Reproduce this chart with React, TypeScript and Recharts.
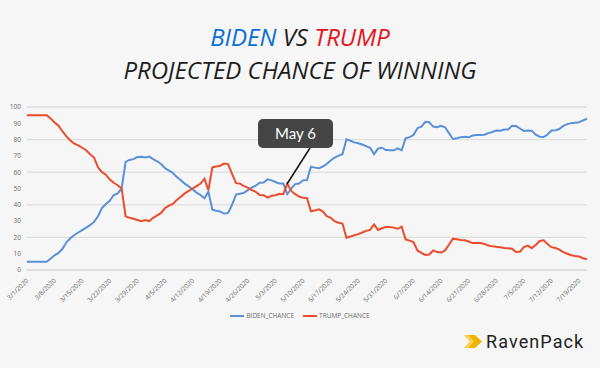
import { LineChart, Line, XAxis, YAxis, CartesianGrid, Legend } from "recharts";

// daily dates, 3/1/2020 .. 7/21/2020
const dates = [
  "3/1/2020", "3/2/2020", "3/3/2020", "3/4/2020", "3/5/2020", "3/6/2020", "3/7/2020",
  "3/8/2020", "3/9/2020", "3/10/2020", "3/11/2020", "3/12/2020", "3/13/2020", "3/14/2020",
  "3/15/2020", "3/16/2020", "3/17/2020", "3/18/2020", "3/19/2020", "3/20/2020", "3/21/2020",
  "3/22/2020", "3/23/2020", "3/24/2020", "3/25/2020", "3/26/2020", "3/27/2020", "3/28/2020",
  "3/29/2020", "3/30/2020", "3/31/2020", "4/1/2020", "4/2/2020", "4/3/2020", "4/4/2020",
  "4/5/2020", "4/6/2020", "4/7/2020", "4/8/2020", "4/9/2020", "4/10/2020", "4/11/2020",
  "4/12/2020", "4/13/2020", "4/14/2020", "4/15/2020", "4/16/2020", "4/17/2020", "4/18/2020",
  "4/19/2020", "4/20/2020", "4/21/2020", "4/22/2020", "4/23/2020", "4/24/2020", "4/25/2020",
  "4/26/2020", "4/27/2020", "4/28/2020", "4/29/2020", "4/30/2020", "5/1/2020", "5/2/2020",
  "5/3/2020", "5/4/2020", "5/5/2020", "5/6/2020", "5/7/2020", "5/8/2020", "5/9/2020",
  "5/10/2020", "5/11/2020", "5/12/2020", "5/13/2020", "5/14/2020", "5/15/2020", "5/16/2020",
  "5/17/2020", "5/18/2020", "5/19/2020", "5/20/2020", "5/21/2020", "5/22/2020", "5/23/2020",
  "5/24/2020", "5/25/2020", "5/26/2020", "5/27/2020", "5/28/2020", "5/29/2020", "5/30/2020",
  "5/31/2020", "6/1/2020", "6/2/2020", "6/3/2020", "6/4/2020", "6/5/2020", "6/6/2020",
  "6/7/2020", "6/8/2020", "6/9/2020", "6/10/2020", "6/11/2020", "6/12/2020", "6/13/2020",
  "6/14/2020", "6/15/2020", "6/16/2020", "6/17/2020", "6/18/2020", "6/19/2020", "6/20/2020",
  "6/21/2020", "6/22/2020", "6/23/2020", "6/24/2020", "6/25/2020", "6/26/2020", "6/27/2020",
  "6/28/2020", "6/29/2020", "6/30/2020", "7/1/2020", "7/2/2020", "7/3/2020", "7/4/2020",
  "7/5/2020", "7/6/2020", "7/7/2020", "7/8/2020", "7/9/2020", "7/10/2020", "7/11/2020",
  "7/12/2020", "7/13/2020", "7/14/2020", "7/15/2020", "7/16/2020", "7/17/2020", "7/18/2020",
  "7/19/2020", "7/20/2020", "7/21/2020",
];

const bidenChance = [
  5, 5, 5, 5, 5, 5, 7, 9, 10.5, 13,
  17, 19.5, 21.5, 23, 24.5, 26, 27.5, 29.5, 33, 38,
  40.5, 42.5, 46, 47, 50, 66.3, 67.5, 68, 69.3, 69.5,
  69, 69.6, 68, 66.7, 65, 62.5, 61, 59.5, 57, 55,
  53, 51.3, 49.5, 47.5, 46, 44, 48, 37, 36.3, 35.9,
  34.5, 35, 40, 46.3, 46.8, 47.3, 49, 50.5, 51.7, 53.5,
  53.7, 55.6, 55, 54, 53, 53, 46.5, 50, 52.7, 53,
  55, 55.2, 63.4, 62.8, 62.4, 63.5, 65, 67.2, 69, 70.2,
  71, 80.2, 79.3, 78.3, 77.8, 77, 76, 75, 71.1, 74.5,
  75, 73.6, 73.4, 73.4, 74.6, 73.4, 80.8, 81.5, 82.8, 87,
  88, 90.9, 90.6, 88, 87.6, 88.5, 87.6, 84, 80.4, 80.8,
  81.5, 81.8, 81.4, 82.5, 82.8, 82.8, 83, 84, 84.7, 85.6,
  85.5, 86.2, 86.2, 88.5, 88.3, 86.8, 85.3, 85.6, 85.5, 83,
  81.8, 81.6, 83.1, 85.6, 85.8, 86.5, 88.5, 89.5, 90.1, 90.4,
  90.7, 91.8, 92.8,
];

const trumpChance = [
  95, 95, 95, 95, 95, 95, 93, 90.5, 88.5, 85,
  82, 79.5, 77.5, 76.5, 75, 73.5, 71, 69, 63, 60,
  58.5, 55.5, 53.5, 52, 50, 33, 32, 31.4, 30.7, 30,
  30.7, 30, 32, 33.5, 35, 38, 39.5, 40.5, 43, 45,
  47, 48.5, 50, 51.5, 53, 56, 49, 63, 63.5, 64,
  65.3, 65, 59, 53.3, 53, 51.5, 50.5, 49, 48, 46,
  45.9, 44.4, 45.5, 45.9, 46.8, 46.5, 53, 48.5, 46.5, 45,
  44.3, 44, 36, 36.5, 37.2, 36, 33, 32, 30, 29,
  28.5, 19.8, 20.5, 21.3, 22, 23, 24, 24.6, 27.9, 24.6,
  25.6, 26.4, 26.4, 26, 25.3, 26.6, 18.8, 18, 17.2, 12,
  10.5, 9.2, 9.5, 12, 11, 10.7, 12, 15.5, 19.2, 18.8,
  18.4, 18.2, 17.5, 16.5, 16.5, 16.5, 16, 15, 14.5, 14.2,
  14, 13.5, 13.4, 13, 11, 11.2, 14, 15, 13.4, 15.3,
  17.8, 18.2, 16, 14, 13.5, 12.5, 11, 10, 9.1, 8.6,
  8.3, 7.2, 6.6,
];

const yTicks = [0, 10, 20, 30, 40, 50, 60, 70, 80, 90, 100];

const BLUE = "#5a8fd9";
const RED = "#ec4b2c";

const chartData = dates.map((d, i) => ({
  date: d,
  BIDEN_CHANCE: bidenChance[i],
  TRUMP_CHANCE: trumpChance[i],
}));

function renderDateTick(props: any) {
  const { x, y, payload } = props;
  return (
    <text
      x={x + 2}
      y={y + 3}
      textAnchor="end"
      fill="#6b6b6b"
      fontSize={6.5}
      fontFamily="Open Sans, sans-serif"
      transform={`rotate(-45 ${x + 2} ${y + 3})`}
    >
      {payload.value}
    </text>
  );
}

function renderLegend() {
  const items = [
    { label: "BIDEN_CHANCE", color: BLUE },
    { label: "TRUMP_CHANCE", color: RED },
  ];
  return (
    <div style={{ display: "flex", justifyContent: "center", gap: 9, fontSize: 6.5, color: "#6b6b6b", fontFamily: "Open Sans, sans-serif" }}>
      {items.map((it) => (
        <div key={it.label} style={{ display: "flex", alignItems: "center" }}>
          <span style={{ display: "inline-block", width: 14, height: 2, background: it.color, marginRight: 2 }} />
          {it.label}
        </div>
      ))}
    </div>
  );
}

const titleLine: any = {
  position: "absolute",
  left: 0,
  width: 600,
  textAlign: "center",
  fontFamily: "Open Sans, sans-serif",
  fontStyle: "italic",
  fontSize: 24,
  lineHeight: "24px",
  color: "#1e1e1e",
};

export default function App() {
  return (
    <div
      style={{
        position: "absolute",
        left: 0,
        top: 0,
        width: 600,
        height: 368,
        background: "#f6f6f6",
        overflow: "hidden",
      }}
    >
      {/* Title */}
      <div style={{ ...titleLine, top: 24.5 }}>
        <span style={{ color: "#0a6fd6" }}>BIDEN</span> VS{" "}
        <span style={{ color: "#e3161b" }}>TRUMP</span>
      </div>
      <div style={{ ...titleLine, top: 57.5 }}>PROJECTED CHANCE OF WINNING</div>

      <LineChart
        width={600}
        height={368}
        data={chartData}
        margin={{ top: 107, right: 13, left: 7, bottom: 49 }}
      >
        <CartesianGrid vertical={false} stroke="#dedede" strokeWidth={1.3} />
        <XAxis
          dataKey="date"
          interval={6}
          height={40}
          axisLine={{ stroke: "#dedede", strokeWidth: 1.3 }}
          tickLine={false}
          tick={renderDateTick}
        />
        <YAxis
          domain={[0, 100]}
          ticks={yTicks}
          width={20}
          axisLine={false}
          tickLine={false}
          tickMargin={0}
          tick={{ fill: "#6b6b6b", fontSize: 6.5, fontFamily: "Open Sans, sans-serif" }}
        />
        <Legend
          verticalAlign="bottom"
          content={renderLegend}
          wrapperStyle={{ top: 311, left: 0, width: 600 }}
        />
        <Line
          type="linear"
          dataKey="BIDEN_CHANCE"
          stroke={BLUE}
          strokeWidth={2}
          dot={false}
          isAnimationActive={false}
        />
        <Line
          type="linear"
          dataKey="TRUMP_CHANCE"
          stroke={RED}
          strokeWidth={2}
          dot={false}
          isAnimationActive={false}
        />
      </LineChart>

      {/* May 6 callout */}
      <svg
        width={600}
        height={368}
        style={{ position: "absolute", left: 0, top: 0, pointerEvents: "none" }}
      >
        <line x1={310} y1={148} x2={287} y2={184} stroke="#111" strokeWidth={1.5} />
      </svg>
      <div
        style={{
          position: "absolute",
          left: 258,
          top: 119,
          width: 75,
          height: 29,
          background: "#454545",
          borderRadius: 5,
          color: "#fff",
          fontFamily: "Lato, sans-serif",
          fontSize: 15,
          lineHeight: "29px",
          textAlign: "center",
        }}
      >
        May 6
      </div>

      {/* RavenPack logo */}
      <div
        style={{
          position: "absolute",
          left: 464,
          top: 331,
          display: "flex",
          alignItems: "center",
        }}
      >
        <svg width={18} height={13} viewBox="0 0 18 13">
          <polygon points="0,0 11,0 18,6.5 11,13 0,13 6,6.5" fill="#f0b400" />
          <polygon points="0,0 4,0 10,6.5 4,13 0,13 6,6.5" fill="#f7d35a" />
        </svg>
        <span
          style={{
            marginLeft: 4,
            fontFamily: "Roboto, sans-serif",
            fontSize: 18,
            color: "#222",
            letterSpacing: 1.1,
          }}
        >
          RavenPack
        </span>
      </div>
    </div>
  );
}
